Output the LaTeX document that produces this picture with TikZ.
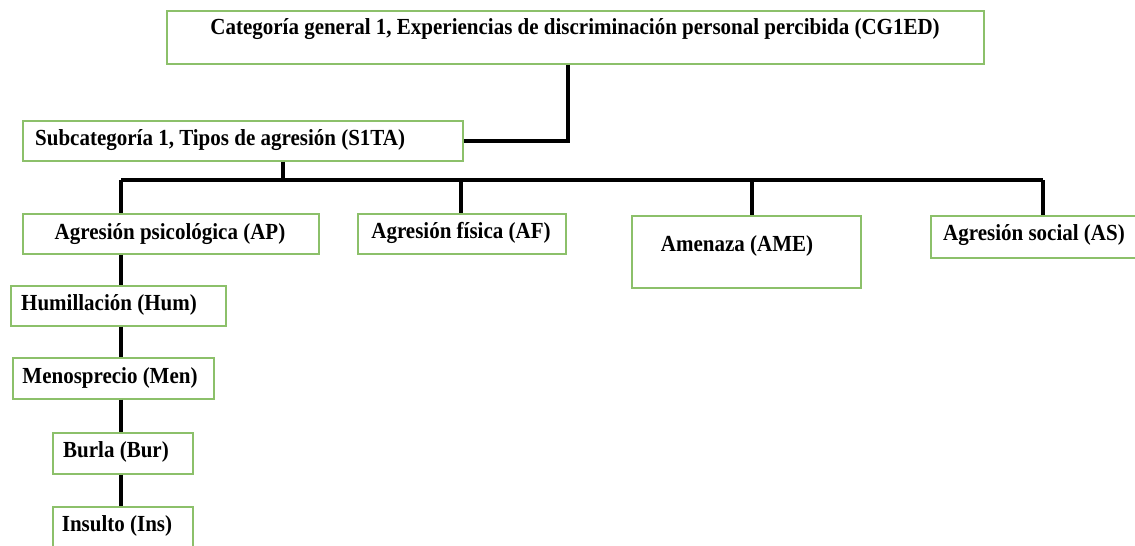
\documentclass[tikz,border=0pt]{standalone}
\usepackage{fontspec}
\setmainfont{Liberation Serif}
\newfontfamily\tnrnarrow[FakeStretch=0.913]{Liberation Serif}
\begin{document}
\begin{tikzpicture}[x=1pt,y=-1pt,
  box/.style={draw=boxgreen, line width=1.6pt, fill=white, rectangle, inner sep=0pt, anchor=north west},
  txt/.style={font=\tnrnarrow\bfseries\fontsize{23}{26}\selectfont, inner sep=0pt},
  link/.style={line width=3.2pt, black}]
\definecolor{boxgreen}{HTML}{8CC06A}
\useasboundingbox (0,0) rectangle (1135,546);
% boxes
\node[box, minimum width=817pt, minimum height=53pt] (cg) at (166,10) {};
\node[box, minimum width=440pt, minimum height=40pt] (s1) at (22,120) {};
\node[box, minimum width=296pt, minimum height=40pt] (ap) at (22,213) {};
\node[box, minimum width=208pt, minimum height=40pt] (af) at (357,213) {};
\node[box, minimum width=229pt, minimum height=72pt] (ame) at (631,215) {};
\node[box, minimum width=210pt, minimum height=42pt] (as) at (930,215) {};
\node[box, minimum width=215pt, minimum height=40pt] (hum) at (10,285) {};
\node[box, minimum width=201pt, minimum height=41pt] (men) at (12,357) {};
\node[box, minimum width=140pt, minimum height=41pt] (bur) at (52,432) {};
\node[box, minimum width=140pt, minimum height=44pt] (ins) at (52,506) {};
% texts
\node[txt] (tcg) at (575,29) {Categoría general 1, Experiencias de discriminación personal percibida (CG1ED)};
\node[txt, anchor=west] (ts1) at (35,140) {Subcategoría 1, Tipos de agresión (S1TA)};
\node[txt] (tap) at (170,234) {Agresión psicológica (AP)};
\node[txt] (taf) at (461,233) {Agresión física (AF)};
\node[txt] (tame) at (737,246) {Amenaza (AME)};
\node[txt] (tas) at (1034,235) {Agresión social (AS)};
\node[txt] (thum) at (109,305) {Humillación (Hum)};
\node[txt] (tmen) at (110,378) {Menosprecio (Men)};
\node[txt] (tbur) at (116,452) {Burla (Bur)};
\node[txt] (tins) at (117,526) {Insulto (Ins)};
% connectors
\coordinate (bar) at (283,180);
\draw[link] (cg.south -| 568,0) |- (s1.east |- 0,141);
\draw[link] (s1.south -| bar) -- (bar);
\draw[link] (121,180) -| (ap.north -| 121,0);
\draw[link] (121,180) -- (1043,180);
\draw[link] (461,180) -- (af.north -| 461,0);
\draw[link] (752,180) -- (ame.north -| 752,0);
\draw[link] (1043,180) -- (as.north -| 1043,0);
\draw[link] (ap.south -| 121,0) -- (hum.north -| 121,0);
\draw[link] (hum.south -| 121,0) -- (men.north -| 121,0);
\draw[link] (men.south -| 121,0) -- (bur.north -| 121,0);
\draw[link] (bur.south -| 121,0) -- (ins.north -| 121,0);
\end{tikzpicture}
\end{document}
